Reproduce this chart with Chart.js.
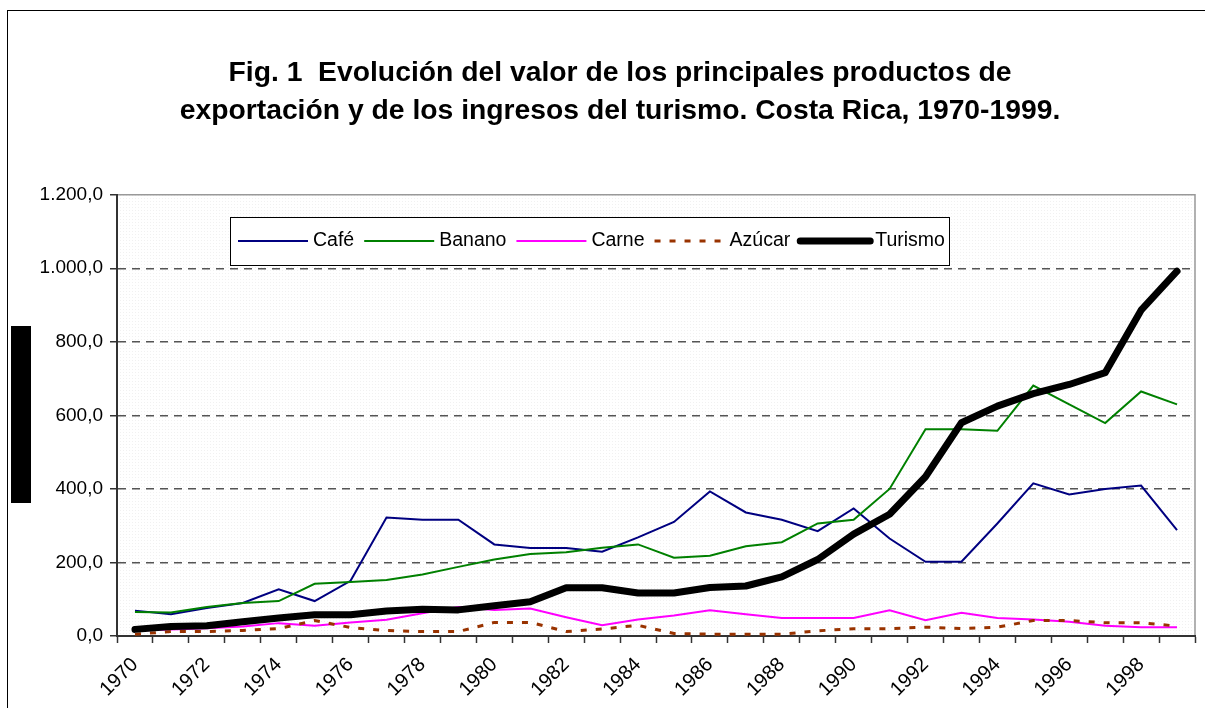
<!DOCTYPE html>
<html>
<head>
<meta charset="utf-8">
<script src="https://cdn.jsdelivr.net/npm/chart.js@4"></script>
<style>
  body { margin: 0; background: #fff; }
  #wrap { position: relative; width: 1205px; height: 708px; overflow: hidden; }
</style>
</head>
<body>
<div id="wrap"><canvas id="evolucion" width="1205" height="708"></canvas></div>
<script>
// Costa Rica export products + tourism, 1970-1999
const years = ['1970', '1971', '1972', '1973', '1974', '1975', '1976', '1977', '1978', '1979',
  '1980', '1981', '1982', '1983', '1984', '1985', '1986', '1987', '1988', '1989',
  '1990', '1991', '1992', '1993', '1994', '1995', '1996', '1997', '1998', '1999'];
const cafe = [69, 59, 76, 90, 127, 95, 150, 322, 316, 316, 249, 239, 239, 229, 268, 310, 393, 336, 316, 285, 347, 265, 202, 202, 306, 415, 385, 400, 409, 288];
const banano = [65, 64, 79, 90, 95, 142, 147, 152, 167, 188, 208, 223, 228, 240, 249, 213, 218, 244, 255, 306, 316, 400, 562, 562, 558, 681, 630, 579, 665, 630];
const carne = [15, 18, 21, 26, 35, 28, 37, 44, 62, 79, 71, 75, 51, 29, 45, 56, 70, 59, 49, 49, 49, 70, 43, 63, 49, 45, 39, 28, 24, 24];
const azucar = [5, 12, 12, 15, 20, 42, 23, 15, 12, 12, 37, 37, 12, 19, 29, 7, 5, 5, 5, 14, 20, 20, 24, 20, 24, 42, 42, 36, 36, 27];
const turismo = [18, 26, 28, 39, 49, 58, 58, 68, 73, 71, 82, 93, 131, 131, 117, 117, 132, 136, 161, 208, 277, 331, 433, 580, 625, 659, 684, 716, 886, 992];
const yTicks = [0, 200, 400, 600, 800, 1000, 1200];

Chart.defaults.font.family = '"Liberation Sans", Arial, sans-serif';
Chart.defaults.color = '#000';

function fmtNum(v) {
  const parts = v.toFixed(1).split('.');
  return parts[0].replace(/\B(?=(\d{3})+(?!\d))/g, '.') + ',' + parts[1];
}

// frame, plot background, black box, legend
const decor = {
  id: 'decor',
  afterLayout(chart) {
    // title sits a bit right of the canvas centre
    if (chart.titleBlock) {
      chart.titleBlock.left = 45;
      chart.titleBlock.right = 1195;
    }
  },
  beforeDraw(chart) {
    const c = chart.ctx;
    const a = chart.chartArea;
    c.save();
    c.fillStyle = '#fff';
    c.fillRect(0, 0, chart.width, chart.height);
    c.strokeStyle = '#000';
    c.lineWidth = 1;
    c.strokeRect(7.5, 10.5, 1300, 800);
    // dotted plot background
    const pc = document.createElement('canvas');
    pc.width = 3; pc.height = 3;
    const px = pc.getContext('2d');
    px.fillStyle = '#fff';
    px.fillRect(0, 0, 3, 3);
    px.fillStyle = '#f1f1f1';
    px.fillRect(0, 0, 1, 1);
    c.fillStyle = c.createPattern(pc, 'repeat');
    c.fillRect(a.left, a.top, a.right - a.left, a.bottom - a.top);
    c.strokeStyle = '#999';
    c.lineWidth = 1.5;
    c.beginPath();
    c.moveTo(a.left, a.top);
    c.lineTo(a.right, a.top);
    c.lineTo(a.right, a.bottom);
    c.stroke();
    c.fillStyle = '#000';
    c.fillRect(11, 326, 20, 177);
    c.restore();
  },
  afterDraw(chart) {
    const c = chart.ctx;
    c.save();
    c.fillStyle = '#fff';
    c.fillRect(230, 217, 719, 48);
    c.strokeStyle = '#000';
    c.lineWidth = 1;
    c.strokeRect(230.5, 217.5, 719, 48);
    c.font = '19.5px "Liberation Sans", Arial, sans-serif';
    c.textBaseline = 'middle';
    c.textAlign = 'left';
    let x = 238;
    const y = 241;
    chart.data.datasets.forEach(ds => {
      c.strokeStyle = ds.borderColor;
      c.lineWidth = ds.borderWidth;
      c.setLineDash(ds.borderDash || []);
      c.lineCap = ds.borderCapStyle || 'butt';
      c.beginPath();
      c.moveTo(x, y);
      c.lineTo(x + 70, y);
      c.stroke();
      c.setLineDash([]);
      c.fillStyle = '#000';
      c.fillText(ds.label, x + 75, y);
      x += 75 + c.measureText(ds.label).width + 10;
    });
    c.restore();
  }
};

const ctx = document.getElementById('evolucion').getContext('2d');
const myChart = new Chart(ctx, {
  type: 'line',
  data: {
    labels: years,
    datasets: [{
        label: 'Café',
        data: cafe,
        borderColor: '#000080',
        borderWidth: 2,
        order: 5
      },
      {
        label: 'Banano',
        data: banano,
        borderColor: '#008000',
        borderWidth: 2,
        order: 4
      },
      {
        label: 'Carne',
        data: carne,
        borderColor: '#ff00ff',
        borderWidth: 2,
        order: 3
      },
      {
        label: 'Azúcar',
        data: azucar,
        borderColor: '#993300',
        borderWidth: 3,
        borderDash: [6, 9],
        order: 2
      },
      {
        label: 'Turismo',
        data: turismo,
        borderColor: '#000',
        borderWidth: 7,
        borderCapStyle: 'round',
        borderJoinStyle: 'round',
        order: 1
      }
    ]
  },
  options: {
    responsive: false,
    animation: false,
    elements: {
      point: { radius: 0, hoverRadius: 0 },
      line: { tension: 0 }
    },
    layout: {
      padding: { left: 10, right: 10, top: 0, bottom: 0 }
    },
    scales: {
      x: {
        offset: true,
        grid: {
          offset: true,
          drawOnChartArea: false,
          tickLength: 7,
          tickColor: '#333',
          tickWidth: 1.5
        },
        border: { color: '#333', width: 2 },
        ticks: {
          autoSkip: false,
          maxRotation: 45,
          minRotation: 45,
          padding: 10,
          font: { size: 20 },
          callback: function (val, i) {
            return i % 2 === 0 ? this.getLabelForValue(val) : '';
          }
        },
        afterFit(scale) { scale.height = 72; }
      },
      y: {
        min: 0,
        max: 1200,
        afterBuildTicks(scale) { scale.ticks = yTicks.map(v => ({ value: v })); },
        grid: {
          color: c => (c.tick && (c.tick.value === 0 || c.tick.value === 1200)) ? 'rgba(0,0,0,0)' : '#555',
          lineWidth: 1.5,
          tickLength: 7,
          tickColor: '#333',
          tickWidth: 1.5,
          tickBorderDash: []
        },
        border: { color: '#333', width: 2, dash: [8, 6] },
        ticks: {
          padding: 7,
          font: { size: 19 },
          callback: v => fmtNum(v)
        },
        afterFit(scale) { scale.width = 107; }
      }
    },
    plugins: {
      legend: false,
      tooltip: { enabled: false },
      title: {
        display: true,
        text: ['Fig. 1  Evolución del valor de los principales productos de',
          'exportación y de los ingresos del turismo. Costa Rica, 1970-1999.'],
        font: { size: 28.3, weight: 'bold', lineHeight: 1.32 },
        color: '#000',
        padding: { top: 55, bottom: 65 }
      }
    }
  },
  plugins: [decor]
});
</script>
</body>
</html>
